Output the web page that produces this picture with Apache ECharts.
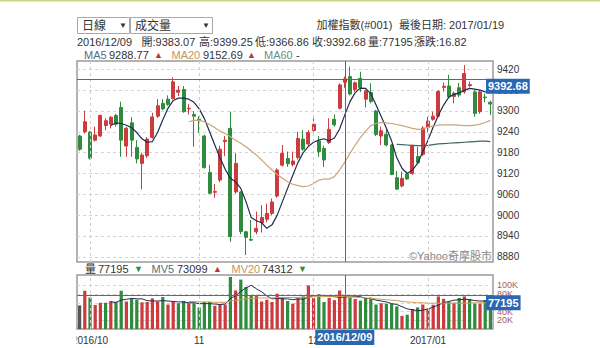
<!DOCTYPE html>
<html>
<head>
<meta charset="utf-8">
<script src="https://cdn.jsdelivr.net/npm/echarts@6/dist/echarts.min.js"></script>
<style>
  html, body { margin: 0; padding: 0; background: #fff; }
  #chart { width: 600px; height: 348px; }
</style>
</head>
<body>
<div id="chart"></div>
<script>
// 加權指數 daily bars, 2016/09/29 – 2017/01/19
const dates = [
  '2016/09/29','2016/09/30',
  '2016/10/03','2016/10/04','2016/10/05','2016/10/06','2016/10/07','2016/10/10','2016/10/11','2016/10/12',
  '2016/10/13','2016/10/14','2016/10/17','2016/10/18','2016/10/19','2016/10/20','2016/10/21','2016/10/24',
  '2016/10/25','2016/10/26','2016/10/27','2016/10/28','2016/10/31',
  '2016/11/01','2016/11/02','2016/11/03','2016/11/04','2016/11/07','2016/11/08','2016/11/09','2016/11/10',
  '2016/11/11','2016/11/14','2016/11/15','2016/11/16','2016/11/17','2016/11/18','2016/11/21','2016/11/22',
  '2016/11/23','2016/11/24','2016/11/25','2016/11/28','2016/11/29','2016/11/30',
  '2016/12/01','2016/12/02','2016/12/05','2016/12/06','2016/12/07','2016/12/08','2016/12/09','2016/12/12',
  '2016/12/13','2016/12/14','2016/12/15','2016/12/16','2016/12/19','2016/12/20','2016/12/21','2016/12/22',
  '2016/12/23','2016/12/26','2016/12/27','2016/12/28','2016/12/29','2016/12/30',
  '2017/01/03','2017/01/04','2017/01/05','2017/01/06','2017/01/09','2017/01/10','2017/01/11','2017/01/12',
  '2017/01/13','2017/01/16','2017/01/17','2017/01/18','2017/01/19'
];

const opens = [
  9228,9240,9239,9216,9228,9258,9262,9287,9310,9199,
  9266,9195,9149,9171,9224,9285,9322,9334,9336,9354,
  9362,9306,9290,9276,9228,9123,9066,9101,9212,9250,
  9067,9067,8952,8930,8952,8978,8988,9005,9055,9144,
  9163,9146,9166,9219,9205,9244,9213,9192,9209,9276,
  9308,9383.07,9399,9362,9394,9334,9353,9300,9228,9233,
  9202,9108,9084,9118,9120,9169,9175,9252,9276,9285,
  9368,9372,9342,9367,9355,9373,9355,9298,9340,9325
];
const closes = [
  9190,9269,9164,9231,9287,9272,9282,9262,9216,9250,
  9216,9162,9173,9219,9283,9315,9306,9319,9384,9360,
  9298,9308,9285,9273,9137,9063,9068,9190,9216,8938,
  9149,8953,8936,8928,8962,8993,9005,9038,9130,9178,
  9148,9156,9221,9190,9238,9262,9183,9159,9247,9260,
  9375,9392.68,9349,9381,9368,9358,9327,9232,9243,9202,
  9117,9075,9106,9104,9200,9151,9251,9271,9285,9356,
  9371,9341,9351,9346,9408,9376,9293,9355,9338,9320
];
const lows = [
  9185,9235,9160,9212,9225,9245,9250,9255,9168,9168,
  9168,9149,9074,9165,9220,9280,9302,9315,9333,9343,
  9295,9290,9197,9237,9134,9060,9050,9095,9170,8923,
  9062,8945,8885,8925,8945,8950,8980,9000,9050,9140,
  9139,9140,9160,9185,9200,9240,9168,9139,9205,9255,
  9305,9366.86,9345,9355,9355,9310,9322,9228,9202,9198,
  9115,9072,9080,9102,9116,9148,9170,9240,9272,9282,
  9356,9336,9322,9340,9350,9368,9283,9292,9325,9288
];
const highs = [
  9232,9301,9242,9255,9290,9279,9285,9292,9327,9254,
  9282,9216,9180,9225,9295,9334,9334,9345,9397,9372,
  9372,9320,9300,9285,9232,9145,9090,9200,9228,9298,
  9178,9070,8955,8986,9010,9029,9033,9048,9135,9202,
  9183,9183,9240,9245,9245,9279,9228,9200,9279,9290,
  9380,9399.25,9428,9385,9413,9362,9380,9303,9255,9250,
  9205,9127,9125,9125,9203,9197,9256,9283,9298,9360,
  9382,9404,9356,9381,9432,9385,9360,9360,9350,9330
];
const volumes = [
  54000,87500,72000,55000,60000,60000,64000,61700,87500,63000,
  70000,67000,61000,62000,70000,63000,73000,56000,63000,59000,
  64000,59000,58600,49000,62000,62000,53000,55500,56000,119000,
  88000,113000,96000,76000,77600,63000,67000,61700,80700,73000,
  64000,58000,70000,74500,99700,71000,74500,61700,71000,66000,
  88000,77195,72000,68600,65000,71000,71500,56000,59000,58000,
  58000,51700,30000,32700,45700,49400,56000,45700,55500,74500,
  69000,63000,60000,71000,74500,68600,58000,58000,66000,62000
];

const ma5 = [
  '-','-','-','-','-','-',9258,9266,9264,9259,
  9252,9238,9220,9210,9212,9238,9275,9308,9330,9337,
  9337,9334,9325,9306,9278,9240,9202,9165,9132,9106,
  9096,9077,9039,8993,8984,8978,8962,8972,9000,9039,
  9077,9115,9152,9180,9198,9210,9216,9220,9214,9222,
  9248,9288.77,9327,9353,9366,9365,9350,9318,9284,9250,
  9214,9165,9135,9120,9130,9149,9183,9216,9254,9288,
  9317,9340,9348,9352,9360,9365,9363,9360,9355,9352
];
const ma20 = [
  '-','-','-','-','-','-','-','-','-','-',
  '-','-','-','-','-','-','-','-','-','-',
  '-',9269,9273,9273,9269,9261,9252,9242,9235,9226,
  9216,9207,9197,9185,9173,9159,9144,9130,9117,9106,
  9096,9089,9085,9082,9084,9091,9101,9104,9104,9111,
  9130,9152.69,9178,9202,9223,9242,9258,9264,9267,9266,
  9264,9261,9258,9254,9250,9247,9248,9253,9257,9259,
  9260,9260,9260,9259,9258,9258,9259,9262,9267,9273
];
const ma60 = [
  '-','-','-','-','-','-','-','-','-','-',
  '-','-','-','-','-','-','-','-','-','-',
  '-','-','-','-','-','-','-','-','-','-',
  '-','-','-','-','-','-','-','-','-','-',
  '-','-','-','-','-','-','-','-','-','-',
  '-','-','-','-','-','-','-','-','-','-',
  '-',9204,9203,9202,9201,9200,9200,9201,9203,9205,
  9206,9207,9208,9209,9210,9211,9212,9213,9213,9212
];
const mv5 = [
  '-','-','-','-','-','-',62000,61000,66000,68000,
  70000,69000,69000,65000,64000,64000,65000,64000,63000,62000,
  62000,60000,60000,58000,58000,58000,57000,56000,57000,70000,
  76000,86000,94000,100000,92000,85000,76000,69000,70000,69000,
  69000,67000,69000,68000,73000,75000,78000,76000,75000,74000,
  72000,73099,74000,74000,74000,70000,70000,66000,64000,62000,
  58000,56000,51000,46000,44000,42000,43000,46000,50000,55000,
  60000,63000,66000,67000,68000,67000,65000,64000,64000,65000
];
const mv20 = [
  '-','-','-','-','-','-','-','-','-','-',
  '-','-','-','-','-','-','-','-','-','-',
  '-',63000,63000,62000,62000,62000,61000,61000,61000,64000,
  65000,67000,69000,70000,71000,71000,71000,71000,72000,72000,
  72000,72000,72000,73000,73000,74000,74000,74000,74000,74000,
  74000,74312,74000,73000,72000,71000,70000,69000,68000,67000,
  66000,65000,63000,62000,61000,60000,60000,59000,59000,59000,
  59000,59000,59000,59000,59000,59000,60000,60000,60000,61000
];

// axis ticks and month markers
const priceTicks = [8880, 8940, 9000, 9060, 9120, 9180, 9240, 9300, 9360, 9420];
const volumeTicksA = [20000, 60000, 100000];
const volumeTicksB = [40000, 80000];
const monthStarts = ['2016/10/03', '2016/11/01', '2016/12/01', '2017/01/03'];
const monthLabels = ['2016/10', '11', '12', '2017/01'];
const pointerDate = '2016/12/09';

const UP = '#cc3b3e';
const DOWN = '#2f8b3d';
const MA5_C = '#1e2d4f';
const MA20_C = '#c9a47c';
const MA60_C = '#3f6662';
const FONT = '"Liberation Sans", Arial, "Noto Sans CJK TC", sans-serif';
const POINTER_BG = '#2b67b0';
const PLOT_RIGHT = 493;
const VOL_MAX = 123500;

const chart = echarts.init(document.getElementById('chart'), null, { renderer: 'svg' });

const pIdx = dates.indexOf(pointerDate);
const candleData = dates.map((d, i) => [opens[i], closes[i], lows[i], highs[i]]);
const volumeData = volumes.map((v, i) => ({
  value: v,
  itemStyle: { color: i === 0 ? '#555555' : (closes[i] >= closes[i - 1] ? UP : DOWN) }
}));
const monthIdx = monthStarts.map(d => dates.indexOf(d));

const monthGrid = {
  silent: true,
  symbol: 'none',
  label: { show: false },
  lineStyle: { type: [3, 3], color: '#cfcfcf', width: 1 },
  data: monthStarts.map(d => ({ xAxis: d }))
};

function txt(x, y, text, opts) {
  return {
    type: 'text', x: x, y: y, z: 100,
    style: Object.assign({
      text: text, fill: '#333', font: '11px ' + FONT,
      textVerticalAlign: 'middle'
    }, opts || {})
  };
}
const RED_T = { fill: '#c0333a', font: '9px ' + FONT };
const GRN_T = { fill: '#2f8b3d', font: '9px ' + FONT };

const graphics = [
  // thin rule along the top edge
  { type: 'rect', shape: { x: 0, y: 0, width: 600, height: 1.5 }, style: { fill: '#d2d48a' } },
  // period selector
  { type: 'rect', shape: { x: 77.5, y: 17.5, width: 52, height: 16 }, style: { fill: '#fff', stroke: '#a9a9a9', lineWidth: 1 } },
  txt(82, 25.5, '日線', { font: '12px ' + FONT }),
  txt(119, 25.5, '▼', { font: '8px ' + FONT }),
  // indicator selector
  { type: 'rect', shape: { x: 130.5, y: 17.5, width: 82, height: 16 }, style: { fill: '#fff', stroke: '#a9a9a9', lineWidth: 1 } },
  txt(135, 25.5, '成交量', { font: '12px ' + FONT }),
  txt(202, 25.5, '▼', { font: '8px ' + FONT }),
  txt(316.5, 24.5, '加權指數(#001)'),
  txt(399, 24.5, '最後日期: 2017/01/19'),
  // quote line
  txt(77, 41.5, '2016/12/09'),
  txt(141.5, 41.5, '開:9383.07'),
  txt(199, 41.5, '高:9399.25'),
  txt(255, 41.5, '低:9366.86'),
  txt(312, 41.5, '收:9392.68'),
  txt(368, 41.5, '量:77195'),
  txt(414, 41.5, '漲跌:16.82'),
  // moving average legend
  txt(84, 54.5, 'MA5', { fill: '#5b6b80' }),
  txt(109, 54.5, '9288.77'),
  txt(154, 54.5, '▲', RED_T),
  txt(171.5, 54.5, 'MA20', { fill: '#c8935f' }),
  txt(203, 54.5, '9152.69'),
  txt(247, 54.5, '▲', RED_T),
  txt(264, 54.5, 'MA60', { fill: '#6f8d84' }),
  txt(296, 54.5, '-'),
  // volume legend
  txt(85, 268.5, '量'),
  txt(98, 268.5, '77195'),
  txt(134, 268.5, '▼', GRN_T),
  txt(151.5, 268.5, 'MV5', { fill: '#5b6b80' }),
  txt(177, 268.5, '73099'),
  txt(213, 268.5, '▲', RED_T),
  txt(231.5, 268.5, 'MV20', { fill: '#c8935f' }),
  txt(262, 268.5, '74312'),
  txt(298, 268.5, '▼', GRN_T),
  // watermark
  txt(492, 256, '©Yahoo奇摩股市', { fill: '#8a8a8a', font: '11px ' + FONT, textAlign: 'right' }),
  // left edge of the widget clips the first month label
  { type: 'rect', z: 200, shape: { x: 0, y: 331, width: 76.5, height: 17 }, style: { fill: '#fff' } }
];

const pointerLine = { color: '#666', width: 1, type: 'solid' };

// volume scale: two right-hand axes sharing one range so the tightly packed labels all stay visible
function volumeAxis(ticks, withPointer) {
  const axis = {
    type: 'value', gridIndex: 1, position: 'right', min: 0, max: VOL_MAX,
    axisLine: { show: false },
    axisTick: { show: false, customValues: ticks },
    axisLabel: {
      customValues: ticks, color: '#a35d62', fontSize: 9, margin: 4, fontFamily: FONT,
      formatter: (v) => (v / 1000) + 'K'
    },
    splitLine: { show: true, lineStyle: { type: [3, 3], color: '#d4d4d4' } }
  };
  if (withPointer) {
    axis.axisPointer = {
      show: true, type: 'line', value: volumes[pIdx], status: 'show', triggerTooltip: false,
      lineStyle: pointerLine, label: { show: false }
    };
  }
  return axis;
}

const option = {
  animation: false,
  backgroundColor: '#fff',
  textStyle: { fontFamily: FONT },
  axisPointer: { triggerOn: 'none' },
  grid: [
    { left: 77, top: 61, width: 416, height: 201, show: true, borderColor: '#9a9a9a', borderWidth: 1.5, backgroundColor: 'transparent' },
    { left: 77, top: 275, width: 416, height: 54, show: true, borderColor: '#9a9a9a', borderWidth: 1.5, backgroundColor: 'transparent' }
  ],
  xAxis: [
    {
      type: 'category', gridIndex: 0, data: dates, boundaryGap: true,
      axisLine: { show: false }, axisTick: { show: false }, axisLabel: { show: false }, splitLine: { show: false },
      axisPointer: {
        show: true, type: 'line', value: pointerDate, status: 'show', triggerTooltip: false,
        lineStyle: pointerLine, label: { show: false }
      }
    },
    {
      type: 'category', gridIndex: 1, data: dates, boundaryGap: true,
      axisLine: { show: false }, axisTick: { show: false }, splitLine: { show: false },
      axisLabel: {
        show: true, margin: 6, color: '#333', fontSize: 10, fontFamily: FONT,
        interval: (i) => monthIdx.indexOf(i) >= 0,
        formatter: (v, i) => monthLabels[monthIdx.indexOf(i)] || ''
      },
      axisPointer: {
        show: true, type: 'line', value: pointerDate, status: 'show', triggerTooltip: false,
        lineStyle: pointerLine,
        label: {
          show: true, backgroundColor: POINTER_BG, color: '#fff', fontWeight: 'bold',
          fontSize: 11, fontFamily: FONT, padding: [2, 2, 2, 2], margin: 1, borderRadius: 0
        }
      }
    }
  ],
  yAxis: [
    {
      type: 'value', gridIndex: 0, position: 'right', min: 8865, max: 9444,
      axisLine: { show: false },
      axisTick: { show: false, customValues: priceTicks },
      axisLabel: {
        customValues: priceTicks, color: '#333', fontSize: 10, margin: 4, fontFamily: FONT,
        formatter: (v) => String(v)
      },
      splitLine: { show: true, lineStyle: { type: [3, 3], color: '#d4d4d4' } },
      axisPointer: {
        show: true, type: 'line', value: closes[pIdx], status: 'show', triggerTooltip: false,
        lineStyle: pointerLine, label: { show: false }
      }
    },
    volumeAxis(volumeTicksA, true),
    volumeAxis(volumeTicksB, false)
  ],
  series: [
    {
      type: 'candlestick', xAxisIndex: 0, yAxisIndex: 0, data: candleData, barWidth: '68%',
      itemStyle: { color: UP, color0: DOWN, borderColor: UP, borderColor0: DOWN, borderWidth: 1 },
      markLine: monthGrid, z: 3
    },
    { type: 'line', name: 'MA5', xAxisIndex: 0, yAxisIndex: 0, data: ma5, symbol: 'none', lineStyle: { color: MA5_C, width: 1.2 }, z: 4 },
    { type: 'line', name: 'MA20', xAxisIndex: 0, yAxisIndex: 0, data: ma20, symbol: 'none', lineStyle: { color: MA20_C, width: 1.2 }, z: 4 },
    { type: 'line', name: 'MA60', xAxisIndex: 0, yAxisIndex: 0, data: ma60, symbol: 'none', lineStyle: { color: MA60_C, width: 1.2 }, z: 4 },
    {
      type: 'bar', xAxisIndex: 1, yAxisIndex: 1, data: volumeData, barWidth: '62%',
      markLine: monthGrid, z: 3
    },
    { type: 'line', name: 'MV5', xAxisIndex: 1, yAxisIndex: 1, data: mv5, symbol: 'none', lineStyle: { color: MA5_C, width: 1 }, z: 4 },
    { type: 'line', name: 'MV20', xAxisIndex: 1, yAxisIndex: 1, data: mv20, symbol: 'none', lineStyle: { color: '#d39a55', width: 1 }, z: 4 }
  ],
  graphic: graphics
};

chart.setOption(option);

// value tags hanging from the crosshair's horizontal lines, placed through the axes' scales
function valueTag(yAxisIndex, value, text) {
  const y = chart.convertToPixel({ yAxisIndex: yAxisIndex }, value);
  return {
    type: 'text', x: PLOT_RIGHT - 7, y: y, z: 150,
    style: {
      text: text, fill: '#fff', font: 'bold 11px ' + FONT,
      backgroundColor: POINTER_BG, padding: [2, 2, 2, 2],
      textVerticalAlign: 'top'
    }
  };
}
chart.setOption({
  graphic: graphics.concat([
    valueTag(0, closes[pIdx], closes[pIdx].toFixed(2)),
    valueTag(1, volumes[pIdx], String(volumes[pIdx]))
  ])
});
</script>
</body>
</html>
